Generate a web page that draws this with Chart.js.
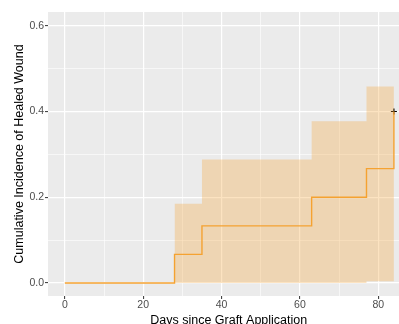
<!DOCTYPE html>
<html>
<head>
<meta charset="utf-8">
<script src="https://cdn.jsdelivr.net/npm/chart.js@4"></script>
<style>
  html, body { margin: 0; padding: 0; background: #ffffff; }
  #wrap { width: 399px; height: 324px; }
</style>
</head>
<body>
<div id="wrap"><canvas id="chart"></canvas></div>
<script>
// Kaplan-Meier style cumulative incidence (step function)
const days = [0, 28, 35, 63, 77, 84];
const incidence = [0, 0.0667, 0.1333, 0.2, 0.2667, 0.4];

// confidence band, starts at the first event
const bandDays = [28, 35, 63, 77, 84];
const bandUpper = [0.185, 0.288, 0.377, 0.458, 0.458];
const bandLower = [0, 0, 0, 0.004, 0.004];

// censored observation
const censorDays = [84];
const censorValues = [0.4];

// axis ticks (major get a label, minor only a grid line)
const xGrid = [0, 10, 20, 30, 40, 50, 60, 70, 80];
const xMajor = [0, 20, 40, 60, 80];
const yGrid = [0, 0.1, 0.2, 0.3, 0.4, 0.5, 0.6];
const yMajor = [0, 0.2, 0.4, 0.6];

const lineColor = 'rgb(245, 163, 50)';
const bandColor = 'rgba(245, 163, 50, 0.3)';

const isMajor = (list, v) => list.some(m => Math.abs(m - v) < 1e-9);

const panelBg = {
    id: 'panelBg',
    beforeDraw(chart) {
        const { ctx, chartArea: a } = chart;
        ctx.save();
        ctx.fillStyle = '#EBEBEB';
        ctx.fillRect(a.left, a.top, a.right - a.left, a.bottom - a.top);
        ctx.restore();
    }
};

const tickFont = { family: 'Liberation Sans', size: 10.5 };
const titleFont = { family: 'Liberation Sans', size: 12.5, lineHeight: 1.2 };

new Chart(document.getElementById('chart'), {
    type: 'line',
    data: {
        datasets: [
            {
                label: 'upper',
                data: bandDays.map((d, i) => ({ x: d, y: bandUpper[i] })),
                stepped: true,
                borderWidth: 0,
                borderColor: 'rgba(0,0,0,0)',
                pointRadius: 0,
                fill: false
            },
            {
                label: 'lower',
                data: bandDays.map((d, i) => ({ x: d, y: bandLower[i] })),
                stepped: true,
                borderWidth: 0,
                borderColor: 'rgba(0,0,0,0)',
                backgroundColor: bandColor,
                pointRadius: 0,
                fill: '-1'
            },
            {
                label: 'incidence',
                data: days.map((d, i) => ({ x: d, y: incidence[i] })),
                stepped: true,
                borderColor: lineColor,
                borderWidth: 1.4,
                pointRadius: 0,
                fill: false
            },
            {
                label: 'censored',
                type: 'scatter',
                data: censorDays.map((d, i) => ({ x: d, y: censorValues[i] })),
                pointStyle: 'cross',
                pointRadius: 3,
                pointHoverRadius: 3,
                borderColor: '#000000',
                borderWidth: 1.2
            }
        ]
    },
    options: {
        responsive: true,
        maintainAspectRatio: false,
        animation: false,
        events: [],
        // no extra room for point overflow, the panel runs to the right edge
        layout: { autoPadding: false, padding: { top: 12, right: 0, bottom: 0, left: 0 } },
        plugins: {
            legend: { display: false },
            tooltip: { enabled: false }
        },
        scales: {
            x: {
                type: 'linear',
                min: -4.3,
                max: 85.3,
                afterBuildTicks: scale => { scale.ticks = xGrid.map(v => ({ value: v })); },
                afterFit: scale => {
                    scale.height = 28;
                    scale.paddingLeft = 0;
                    scale.paddingRight = 0;
                },
                border: { display: false },
                grid: {
                    color: '#FFFFFF',
                    lineWidth: c => isMajor(xMajor, c.tick.value) ? 1.2 : 0.6,
                    tickColor: c => isMajor(xMajor, c.tick.value) ? '#333333' : 'rgba(0,0,0,0)',
                    tickWidth: 1,
                    tickLength: 3
                },
                ticks: {
                    padding: 0,
                    color: '#4D4D4D',
                    font: tickFont,
                    maxRotation: 0,
                    autoSkip: false,
                    callback: v => isMajor(xMajor, v) ? String(v) : ''
                },
                title: {
                    display: true,
                    // leading spaces: original panel was wider (cropped), title sits a bit right of centre
                    text: '   Days since Graft Application',
                    color: '#000000',
                    font: titleFont,
                    padding: { top: 0, bottom: -4.5 }
                }
            },
            y: {
                type: 'linear',
                min: -0.0303,
                max: 0.632,
                afterBuildTicks: scale => { scale.ticks = yGrid.map(v => ({ value: v })); },
                afterFit: scale => {
                    scale.width = 48;
                    scale.paddingTop = 0;
                    scale.paddingBottom = 0;
                },
                border: { display: false },
                grid: {
                    color: '#FFFFFF',
                    lineWidth: c => isMajor(yMajor, c.tick.value) ? 1.2 : 0.6,
                    tickColor: c => isMajor(yMajor, c.tick.value) ? '#333333' : 'rgba(0,0,0,0)',
                    tickWidth: 1,
                    tickLength: 3
                },
                ticks: {
                    padding: 1,
                    color: '#4D4D4D',
                    font: tickFont,
                    autoSkip: false,
                    callback: v => isMajor(yMajor, v) ? v.toFixed(1) : ''
                },
                title: {
                    display: true,
                    text: 'Cumulative Incidence of Healed Wound',
                    color: '#000000',
                    font: titleFont,
                    padding: { top: 12.5, bottom: 0 }
                }
            }
        }
    },
    plugins: [panelBg]
});
</script>
</body>
</html>
